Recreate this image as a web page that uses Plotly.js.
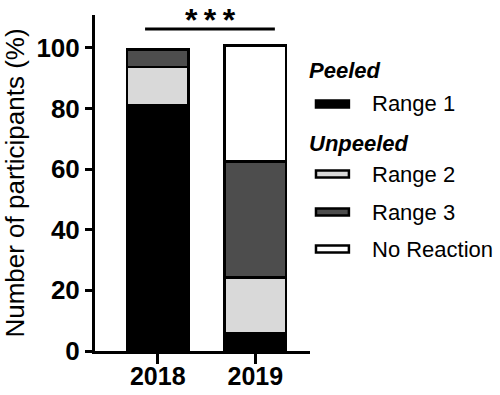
<!DOCTYPE html>
<html>
<head>
<meta charset="utf-8">
<script src="https://cdn.plot.ly/plotly-3.0.1.min.js"></script>
<style>html,body{margin:0;padding:0;background:#fff;}#chart{width:500px;height:395px;}</style>
</head>
<body>
<div id="chart"></div>
<script>
// ---- data ----
const years = ["2018", "2019"];
const range1 = [81.0, 5.7];        // Peeled – Range 1
const range2 = [12.6, 18.6];       // Unpeeled – Range 2
const range3 = [5.9, 38.2];        // Unpeeled – Range 3
const noReaction = [null, 38.2];   // Unpeeled – No Reaction
const seriesNames = ["Range 1", "Range 2", "Range 3", "No Reaction"];
const groupTitles = ["Peeled", "Unpeeled"];
const yTicks = [0, 20, 40, 60, 80, 100];
const sigLabel = "*\u2009*\u2009*";

// ---- styling ----
const FONT = "Liberation Sans, Arial, sans-serif";
const colors = ["#000000", "#d9d9d9", "#4d4d4d", "#ffffff"];
const L = 94.5, R = 190, T = 15, B = 44;
const W = 500 - L - R, H = 395 - T - B;
const px = x => (x - L) / W;
const py = y => (395 - B - y) / H;

const values = [range1, range2, range3, noReaction];
const traces = values.map((v, i) => ({
  type: "bar",
  x: years,
  y: v,
  name: seriesNames[i],
  width: 0.63,
  marker: { color: colors[i], line: { color: "#000", width: 2.5 } },
  showlegend: false,
  hoverinfo: "x+y+name"
}));

// custom legend (wide rectangles + labels)
const shapes = [];
const annotations = [];
const legendRows = [
  { kind: "title", text: groupTitles[0], y: 70 },
  { kind: "item", idx: 0, y: 104 },
  { kind: "title", text: groupTitles[1], y: 143 },
  { kind: "item", idx: 1, y: 174 },
  { kind: "item", idx: 2, y: 212 },
  { kind: "item", idx: 3, y: 249 }
];
legendRows.forEach(r => {
  if (r.kind === "title") {
    annotations.push({
      xref: "paper", yref: "paper", x: px(307), y: py(r.y),
      xanchor: "left", yanchor: "middle", showarrow: false,
      text: "<b><i>" + r.text + "</i></b>",
      font: { family: FONT, size: 22, color: "#000" }
    });
  } else {
    shapes.push({
      type: "rect", xref: "paper", yref: "paper",
      x0: px(316), x1: px(349), y0: py(r.y - 3.5), y1: py(r.y + 3.5),
      fillcolor: colors[r.idx], line: { color: "#000", width: 2.5 }
    });
    annotations.push({
      xref: "paper", yref: "paper", x: px(370), y: py(r.y),
      xanchor: "left", yanchor: "middle", showarrow: false,
      text: seriesNames[r.idx],
      font: { family: FONT, size: 22, color: "#000" }
    });
  }
});

// significance bar
shapes.push({
  type: "line", xref: "x", yref: "paper",
  x0: -0.13, x1: 1.2, y0: py(29), y1: py(29),
  line: { color: "#000", width: 3 }
});
annotations.push({
  xref: "x", yref: "paper", x: 0.54, y: py(0.5),
  xanchor: "center", yanchor: "top", showarrow: false, borderpad: 0,
  text: "<b>" + sigLabel + "</b>",
  font: { family: FONT, size: 32, color: "#000" }
});

const layout = {
  width: 500, height: 395,
  margin: { l: L, r: R, t: T, b: B, pad: 0 },
  paper_bgcolor: "#fff", plot_bgcolor: "#fff",
  barmode: "stack",
  showlegend: false,
  font: { family: FONT, color: "#000" },
  xaxis: {
    type: "category",
    range: [-0.643, 1.56],
    showline: true, linecolor: "#000", linewidth: 3,
    ticks: "outside", ticklen: 10, tickwidth: 3, tickcolor: "#000",
    ticklabelstandoff: -9,
    showgrid: false, zeroline: false,
    tickfont: { family: FONT, size: 25, weight: "bold", color: "#000" }
  },
  yaxis: {
    range: [0, 110.8],
    tickvals: yTicks,
    showline: true, linecolor: "#000", linewidth: 3,
    ticks: "outside", ticklen: 7, tickwidth: 3, tickcolor: "#000",
    showgrid: false, zeroline: false,
    tickfont: { family: FONT, size: 26, weight: "bold", color: "#000" },
    title: { text: "Number of participants (%)", font: { family: FONT, size: 26, color: "#000" }, standoff: 11 }
  },
  shapes: shapes,
  annotations: annotations
};

Plotly.newPlot("chart", traces, layout, { displayModeBar: false, staticPlot: true });
</script>
</body>
</html>
